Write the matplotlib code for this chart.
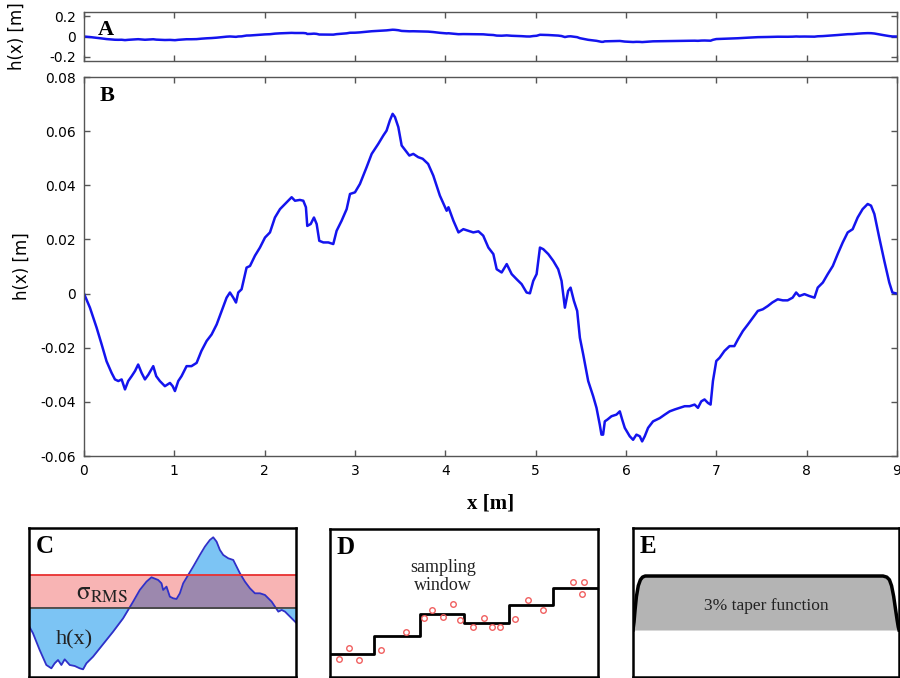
import numpy as np
import matplotlib.pyplot as plt

# profile h(x)
x_m = [0.0, 0.066, 0.14, 0.196, 0.25, 0.306, 0.343, 0.38, 0.417, 0.454, 0.49, 0.528,
       0.565, 0.60, 0.638, 0.675, 0.712, 0.767, 0.80, 0.84, 0.896, 0.952, 0.982, 1.007,
       1.044, 1.08, 1.136, 1.19, 1.247, 1.30, 1.358, 1.413, 1.469, 1.524, 1.579, 1.616,
       1.653, 1.683, 1.708, 1.745, 1.80, 1.838, 1.893, 1.948, 2.004, 2.059, 2.114, 2.17,
       2.225, 2.299, 2.336, 2.39, 2.428, 2.457, 2.472, 2.51, 2.546, 2.576, 2.605, 2.65,
       2.705, 2.76, 2.797, 2.852, 2.908, 2.945, 3.0, 3.055, 3.129, 3.185, 3.258, 3.314,
       3.35, 3.387, 3.417, 3.443, 3.48, 3.517, 3.554, 3.602, 3.646, 3.70, 3.75, 3.81,
       3.867, 3.94, 4.015, 4.035, 4.09, 4.146, 4.20, 4.256, 4.31, 4.367, 4.42, 4.477,
       4.532, 4.569, 4.624, 4.68, 4.735, 4.79, 4.845, 4.90, 4.937, 4.974, 5.011, 5.048,
       5.085, 5.14, 5.195, 5.25, 5.287, 5.324, 5.36, 5.387, 5.424, 5.46, 5.49, 5.527,
       5.582, 5.637, 5.674, 5.71, 5.729, 5.747, 5.766, 5.796, 5.84, 5.895, 5.932, 5.958,
       5.987, 6.042, 6.079, 6.116, 6.153, 6.179, 6.208, 6.245, 6.30, 6.374, 6.43, 6.484,
       6.54, 6.595, 6.65, 6.705, 6.76, 6.797, 6.834, 6.87, 6.908, 6.937, 6.963, 7.0,
       7.037, 7.09, 7.147, 7.2, 7.24, 7.295, 7.35, 7.405, 7.46, 7.515, 7.57, 7.62,
       7.68, 7.737, 7.79, 7.845, 7.884, 7.92, 7.976, 8.03, 8.087, 8.123, 8.18, 8.234,
       8.29, 8.344, 8.40, 8.455, 8.51, 8.565, 8.62, 8.676, 8.713, 8.75, 8.804, 8.86,
       8.915, 8.95, 9.0]
h_m = [0.0, -0.0052, -0.0126, -0.0188, -0.025, -0.0293, -0.0317, -0.0323, -0.0317, -0.0354,
       -0.0323, -0.0305, -0.0286, -0.0262, -0.0293, -0.0317, -0.030, -0.0268, -0.0305, -0.0323,
       -0.0342, -0.033, -0.0342, -0.036, -0.0323, -0.0305, -0.0268, -0.0268, -0.0256, -0.0212,
       -0.0175, -0.0151, -0.0114, -0.0064, -0.0015, 0.0004, -0.0015, -0.0033, 0.0004, 0.0016,
       0.0096, 0.0102, 0.014, 0.017, 0.0207, 0.0226, 0.0281, 0.0312, 0.0331, 0.0356,
       0.0343, 0.0346, 0.0343, 0.0319, 0.025, 0.0257, 0.0281, 0.0257, 0.0195, 0.0189,
       0.0189, 0.0183, 0.0232, 0.0269, 0.0312, 0.0368, 0.0374, 0.0405, 0.0467, 0.0516,
       0.0553, 0.0584, 0.0602, 0.064, 0.0664, 0.0652, 0.0615, 0.0547, 0.0531, 0.051,
       0.0516, 0.0504, 0.0498, 0.0479, 0.0436, 0.0362, 0.0306, 0.0319, 0.0269, 0.0226,
       0.0238, 0.0232, 0.0226, 0.023, 0.0214, 0.017, 0.0146, 0.009, 0.0078, 0.0109,
       0.0072, 0.0053, 0.0035, 0.0004, 0.0001, 0.0047, 0.0072, 0.017, 0.0164, 0.0146,
       0.0121, 0.009, 0.0047, -0.0052, 0.001, 0.0022, -0.0027, -0.0064, -0.0163, -0.0225,
       -0.0323, -0.0379, -0.0422, -0.0484, -0.0521, -0.0521, -0.0472, -0.0465, -0.0453, -0.0447,
       -0.0435, -0.0465, -0.0496, -0.0527, -0.054, -0.0521, -0.0527, -0.0546, -0.0527, -0.0496,
       -0.0472, -0.046, -0.0447, -0.0435, -0.0428, -0.0422, -0.0416, -0.0416, -0.041, -0.0422,
       -0.0398, -0.0391, -0.0404, -0.041, -0.0323, -0.0249, -0.0237, -0.0212, -0.0194, -0.0194,
       -0.0169, -0.0138, -0.0114, -0.0089, -0.0064, -0.0058, -0.0046, -0.0033, -0.0021, -0.0025,
       -0.0025, -0.0015, 0.0004, -0.0009, -0.0002, -0.0009, -0.0015, 0.0022, 0.0041, 0.0072,
       0.0102, 0.0146, 0.0189, 0.0226, 0.0238, 0.0281, 0.0312, 0.0331, 0.0325, 0.0294,
       0.0207, 0.0121, 0.0041, 0.0004, 0.0]

b_yticks = [-0.06, -0.04, -0.02, 0, 0.02, 0.04, 0.06, 0.08]
b_ylabels = ['-0.06', '-0.04', '-0.02', '0', '0.02', '0.04', '0.06', '0.08']
a_yticks = [-0.2, 0, 0.2]
a_ylabels = ['-0.2', '0', '0.2']

# panel C sketch (arbitrary units, sigma = 1)
c_x = [0, 12, 32, 52, 67, 77, 87, 97, 107, 122, 137, 152, 162, 172, 192, 212, 232, 252,
       267, 282, 297, 312, 332, 352, 367, 377, 387, 397, 402, 412, 422, 432, 442, 452,
       462, 477, 492, 512, 527, 542, 552, 562, 572, 582, 597, 612, 622, 632, 647, 662,
       677, 692, 707, 717, 727, 737, 747, 757, 767, 777, 787, 800]
c_h = [-0.53, -0.75, -1.25, -1.70, -1.80, -1.65, -1.55, -1.70, -1.53, -1.70, -1.73, -1.80,
       -1.83, -1.65, -1.45, -1.20, -0.95, -0.70, -0.50, -0.30, -0.05, 0.20, 0.55, 0.80,
       0.93, 0.89, 0.85, 0.75, 0.55, 0.65, 0.35, 0.30, 0.28, 0.45, 0.75, 1.00, 1.25,
       1.60, 1.85, 2.05, 2.13, 2.00, 1.75, 1.60, 1.50, 1.45, 1.25, 1.05, 0.80, 0.60,
       0.45, 0.45, 0.40, 0.30, 0.20, 0.05, -0.10, -0.05, -0.10, -0.20, -0.30, -0.43]
sigma = 1.0

# panel D: samples and window averages
d_x = [26, 58, 88, 153, 226, 281, 306, 338, 368, 388, 428, 461, 486, 508, 553, 593,
       638, 726, 753, 761]
d_v = [0.53, 0.86, 0.50, 0.82, 1.35, 1.79, 2.03, 1.80, 2.19, 1.73, 1.51, 1.77, 1.52,
       1.52, 1.74, 2.33, 2.03, 2.87, 2.51, 2.87]
d_edges = [0, 133, 268, 400, 535, 668, 802]
d_levels = [0.69, 1.23, 1.91, 1.64, 2.16, 2.69]

# panel E: taper
e_x = [0.0, 0.004, 0.008, 0.013, 0.02, 0.028, 0.036, 0.046, 0.06, 0.94, 0.954, 0.964,
       0.972, 0.98, 0.987, 0.993, 0.997, 1.0]
e_y = [0.0, 0.15, 0.38, 0.62, 0.82, 0.93, 0.98, 1.0, 1.0, 1.0, 0.98, 0.93, 0.82,
       0.62, 0.38, 0.18, 0.06, 0.0]

serif = 'Liberation Serif'
frame = '#555555'
line_blue = '#1414ee'

fig = plt.figure(figsize=(9, 6.78), dpi=100)


def style_main(ax):
    for s in ax.spines.values():
        s.set_color(frame)
        s.set_linewidth(1.0)
    ax.tick_params(direction='in', top=True, right=True, length=4, width=1,
                   color=frame, labelsize=10, pad=6)


# A
axA = fig.add_axes([0.0933, 0.910, 0.9033, 0.0723])
axA.plot(x_m, h_m, color=line_blue, lw=1.8)
axA.set_xlim(0, 9)
axA.set_ylim(-0.24, 0.24)
axA.set_xticks(range(10))
axA.set_xticklabels([])
axA.set_yticks(a_yticks)
axA.set_yticklabels(a_ylabels)
style_main(axA)
axA.set_ylabel('h(x) [m]', fontsize=12)
axA.yaxis.set_label_coords(-0.072, 0.5)
axA.text(0.017, 0.83, 'A', transform=axA.transAxes, fontsize=16, fontweight='bold',
         family=serif, va='top')

# B
axB = fig.add_axes([0.0933, 0.3274, 0.9033, 0.559])
axB.plot(x_m, h_m, color=line_blue, lw=1.8)
axB.set_xlim(0, 9)
axB.set_ylim(-0.06, 0.08)
axB.set_xticks(range(10))
axB.set_yticks(b_yticks)
axB.set_yticklabels(b_ylabels)
style_main(axB)
axB.set_ylabel('h(x) [m]', fontsize=12)
axB.yaxis.set_label_coords(-0.066, 0.5)
axB.set_xlabel('x [m]', fontsize=15, fontweight='bold', family=serif)
axB.xaxis.set_label_coords(0.5, -0.1)
axB.text(0.019, 0.975, 'B', transform=axB.transAxes, fontsize=16, fontweight='bold',
         family=serif, va='top')


def style_small(ax, letter):
    for s in ax.spines.values():
        s.set_color('black')
        s.set_linewidth(1.8)
    ax.set_xticks([])
    ax.set_yticks([])
    ax.text(0.025, 0.95, letter, transform=ax.transAxes, fontsize=18, fontweight='bold',
            family=serif, va='top')


# C
axC = fig.add_axes([0.0322, 0.0015, 0.2967, 0.2198])
c_h_arr = np.array(c_h)
axC.axhspan(0, sigma, color='#f8b4b4', lw=0)
axC.fill_between(c_x, 0, c_h_arr, color='#7cc4f4', lw=0)
axC.fill_between(c_x, 0, np.clip(c_h_arr, 0, sigma), color='#9c88ae', lw=0)
axC.plot(c_x, c_h, color='#3030c8', lw=1.3)
axC.axhline(sigma, color='#e83030', lw=1.3)
axC.axhline(0, color='#444444', lw=1.3)
axC.set_xlim(0, 800)
axC.set_ylim(-2.06, 2.41)
axC.text(220, 0.45, r'$\mathrm{\sigma}_{\mathrm{RMS}}$', fontsize=18, ha='center',
         va='center', math_fontfamily='stix', color='#222222')
axC.text(136, -0.95, 'h(x)', fontsize=16, family=serif, ha='center', va='center',
         color='#222222')
style_small(axC, 'C')

# D
axD = fig.add_axes([0.3667, 0.0015, 0.2978, 0.2184])
axD.step(d_edges, d_levels + [d_levels[-1]], where='post', color='black', lw=2)
axD.plot(d_x, d_v, 'o', mfc='none', mec='#f06060', ms=4, mew=1)
axD.set_xlim(0, 802)
axD.set_ylim(0, 4.47)
axD.text(338, 3.03, 'sampling\nwindow', fontsize=13, family=serif, ha='center',
         va='center', linespacing=1.05, color='#222222')
style_small(axD, 'D')

# E
axE = fig.add_axes([0.7033, 0.0015, 0.2956, 0.2198])
axE.fill_between(e_x, 0, e_y, color='#b4b4b4', lw=0)
axE.plot(e_x, e_y, color='black', lw=2.5)
axE.set_xlim(0, 1)
axE.set_ylim(-0.87, 1.89)
axE.text(0.5, 0.44, '3% taper function', fontsize=12.5, family=serif, ha='center',
         va='center', color='#222222')
style_small(axE, 'E')

fig.savefig('out.png', dpi=100)
